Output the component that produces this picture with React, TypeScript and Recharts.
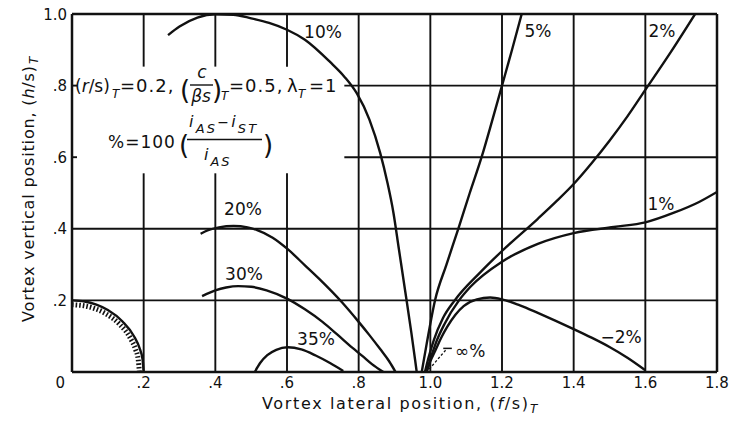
import React from 'react';
import { LineChart, Line, XAxis, YAxis, ReferenceLine } from 'recharts';

const W = 733;
const H = 423;
const FONT = "'DejaVu Sans', 'Liberation Sans', sans-serif";
const INK = '#111';

// ---- axes ----
const xTicks = [0, 0.2, 0.4, 0.6, 0.8, 1.0, 1.2, 1.4, 1.6, 1.8];
const xTickLabels = ['0', '.2', '.4', '.6', '.8', '1.0', '1.2', '1.4', '1.6', '1.8'];
const yTicks = [0.2, 0.4, 0.6, 0.8, 1.0];
const yTickLabels = ['.2', '.4', '.6', '.8', '1.0'];

// ---- grid (some lines are interrupted by the note box) ----
const gridXFull = [0.8, 1.0, 1.2, 1.4, 1.6];
const gridXBroken = [0.2, 0.4, 0.6];
const noteGapY = [0.555, 0.853];
const gridYFull = [0.2, 0.4];
const gridYBroken = [0.6, 0.8];
const noteGapXEnd = 0.76;
const stubLen = 0.014;

// ---- curves (x = (f/s)T, y = (h/s)T) ----
const pct10 = [
  [0.268, 0.941], [0.3, 0.965], [0.35, 0.99], [0.4, 0.999], [0.45, 0.998], [0.5, 0.988],
  [0.55, 0.975], [0.6, 0.956], [0.65, 0.928], [0.72, 0.866], [0.76, 0.825], [0.795, 0.778],
  [0.83, 0.705], [0.86, 0.612], [0.88, 0.53], [0.897, 0.445], [0.912, 0.345], [0.93, 0.225],
  [0.947, 0.11], [0.958, 0.03], [0.962, 0],
];
const pct20 = [
  [0.359, 0.386], [0.38, 0.396], [0.41, 0.404], [0.451, 0.408], [0.49, 0.404], [0.515, 0.397],
  [0.56, 0.375], [0.602, 0.343], [0.65, 0.298], [0.69, 0.26], [0.754, 0.194], [0.8, 0.14],
  [0.83, 0.103], [0.86, 0.064], [0.885, 0.03], [0.903, 0],
];
const pct30 = [
  [0.363, 0.212], [0.4, 0.228], [0.43, 0.236], [0.464, 0.24], [0.5, 0.238], [0.543, 0.228],
  [0.6, 0.205], [0.65, 0.175], [0.699, 0.14], [0.74, 0.105], [0.782, 0.068], [0.81, 0.045],
  [0.837, 0.022], [0.869, 0],
];
const pct35 = [
  [0.51, 0], [0.525, 0.025], [0.545, 0.047], [0.57, 0.062], [0.602, 0.069], [0.64, 0.063],
  [0.68, 0.046], [0.72, 0.025], [0.757, 0.003],
];
const pct5 = [
  [0.976, 0], [0.99, 0.08], [1.013, 0.2], [1.045, 0.3], [1.078, 0.4], [1.11, 0.5],
  [1.143, 0.6], [1.172, 0.7], [1.2, 0.8], [1.228, 0.9], [1.255, 1.0],
];
const pct2 = [
  [0.985, 0], [0.995, 0.04], [1.01, 0.09], [1.035, 0.15], [1.068, 0.2], [1.14, 0.279],
  [1.2, 0.338], [1.3, 0.428], [1.35, 0.475], [1.4, 0.525], [1.45, 0.583], [1.5, 0.646],
  [1.55, 0.714], [1.6, 0.788], [1.67, 0.892], [1.739, 1.0],
];
const pct1 = [
  [0.99, 0], [1.0, 0.035], [1.015, 0.08], [1.04, 0.135], [1.08, 0.2], [1.112, 0.238],
  [1.2, 0.308], [1.3, 0.358], [1.4, 0.388], [1.512, 0.405], [1.6, 0.418], [1.68, 0.445],
  [1.75, 0.475], [1.8, 0.503],
];
const pctMinus2 = [
  [0.99, 0.003], [1.0, 0.03], [1.014, 0.06], [1.03, 0.095], [1.047, 0.126], [1.07, 0.16],
  [1.093, 0.184], [1.13, 0.203], [1.167, 0.208], [1.2, 0.203], [1.25, 0.186], [1.3, 0.165],
  [1.35, 0.143], [1.4, 0.12], [1.45, 0.096], [1.5, 0.07], [1.55, 0.04], [1.6, 0.005],
];
// boundary quarter circle (radius 0.2) and its hatching just inside it
const boundaryArc = [
  [0, 0.2], [0.035, 0.197], [0.068, 0.188], [0.1, 0.173], [0.141, 0.141], [0.173, 0.1],
  [0.188, 0.068], [0.197, 0.035], [0.2, 0],
];
const hatchArc = [
  [0, 0.188], [0.033, 0.185], [0.064, 0.177], [0.094, 0.163], [0.133, 0.133], [0.163, 0.094],
  [0.177, 0.064], [0.185, 0.033], [0.188, 0],
];
// leader for the "∞%" note
const infLeader = [[0.997, 0.008], [1.047, 0.066]];
const infHook = [[1.036, 0.066], [1.06, 0.066]];

const toPts = (a: number[][]) => a.map(([x, y]) => ({ x, y }));

const curves = [
  { key: 'p10', data: pct10 },
  { key: 'p20', data: pct20 },
  { key: 'p30', data: pct30 },
  { key: 'p35', data: pct35 },
  { key: 'p5', data: pct5 },
  { key: 'p2', data: pct2 },
  { key: 'p1', data: pct1 },
  { key: 'pm2', data: pctMinus2 },
  { key: 'arc', data: boundaryArc },
];

// curve labels: text, centre x, baseline y (px)
const curveLabels = [
  { t: '10%', x: 323, y: 38 },
  { t: '5%', x: 538, y: 37 },
  { t: '2%', x: 662, y: 37 },
  { t: '1%', x: 661, y: 210 },
  { t: '\u22122%', x: 621, y: 343 },
  { t: '20%', x: 243, y: 215 },
  { t: '30%', x: 244, y: 280 },
  { t: '35%', x: 316, y: 345 },
];

const XTick = (props: any) => {
  const { x, y, payload } = props;
  const i = xTicks.findIndex((t) => Math.abs(t - payload.value) < 1e-6);
  const label = i >= 0 ? xTickLabels[i] : '';
  const isZero = i === 0;
  return (
    <text
      x={isZero ? x - 7 : x}
      y={y + 16}
      textAnchor={isZero ? 'end' : 'middle'}
      fontFamily={FONT}
      fontSize={15}
      fill={INK}
    >
      {label}
    </text>
  );
};

const YTick = (props: any) => {
  const { x, y, payload } = props;
  const i = yTicks.findIndex((t) => Math.abs(t - payload.value) < 1e-6);
  const label = i >= 0 ? yTickLabels[i] : '';
  return (
    <text x={x} y={y + 5.5} textAnchor="end" fontFamily={FONT} fontSize={15} fill={INK}>
      {label}
    </text>
  );
};

const gridStyle = { stroke: INK, strokeWidth: 1.9 };

export default function App() {
  const segs: { k: string; s: { x: number; y: number }[] }[] = [];
  gridXFull.forEach((gx) => segs.push({ k: `vx${gx}`, s: [{ x: gx, y: 0 }, { x: gx, y: 1 }] }));
  gridXBroken.forEach((gx) => {
    segs.push({ k: `vxa${gx}`, s: [{ x: gx, y: 0 }, { x: gx, y: noteGapY[0] }] });
    segs.push({ k: `vxb${gx}`, s: [{ x: gx, y: noteGapY[1] }, { x: gx, y: 1 }] });
  });
  gridYFull.forEach((gy) => segs.push({ k: `hy${gy}`, s: [{ x: 0, y: gy }, { x: 1.8, y: gy }] }));
  gridYBroken.forEach((gy) => {
    segs.push({ k: `hya${gy}`, s: [{ x: 0, y: gy }, { x: stubLen, y: gy }] });
    segs.push({ k: `hyb${gy}`, s: [{ x: noteGapXEnd, y: gy }, { x: 1.8, y: gy }] });
  });

  return (
    <div style={{ position: 'absolute', left: 0, top: 0, width: W, height: H, background: '#fff' }}>
      <LineChart width={W} height={H} margin={{ top: 14, right: 16, bottom: 0, left: 0 }}>
        <XAxis
          type="number"
          dataKey="x"
          domain={[0, 1.8]}
          ticks={xTicks}
          interval={0}
          allowDataOverflow
          height={51}
          tickLine={false}
          tickSize={0}
          tickMargin={0}
          tick={<XTick />}
          axisLine={{ stroke: INK, strokeWidth: 2.5 }}
        />
        <YAxis
          type="number"
          dataKey="y"
          domain={[0, 1]}
          ticks={yTicks}
          interval={0}
          allowDataOverflow
          width={72}
          tickLine={false}
          tickSize={0}
          tickMargin={5}
          tick={<YTick />}
          axisLine={{ stroke: INK, strokeWidth: 2.5 }}
        />
        {segs.map((g) => (
          <ReferenceLine key={g.k} segment={g.s} {...gridStyle} />
        ))}
        <ReferenceLine y={1} stroke={INK} strokeWidth={2.5} />
        <ReferenceLine x={1.8} stroke={INK} strokeWidth={2.5} />
        <ReferenceLine
          segment={toPts(infLeader)}
          stroke={INK}
          strokeWidth={1.3}
          strokeDasharray="2.5 2"
        />
        <ReferenceLine segment={toPts(infHook)} stroke={INK} strokeWidth={1.5} />
        <Line
          key="hatch"
          data={toPts(hatchArc)}
          dataKey="y"
          type="monotone"
          dot={false}
          activeDot={false}
          stroke={INK}
          strokeWidth={5}
          strokeDasharray="1.6 2"
          isAnimationActive={false}
        />
        {curves.map((c) => (
          <Line
            key={c.key}
            data={toPts(c.data)}
            dataKey="y"
            type="monotone"
            dot={false}
            activeDot={false}
            stroke={INK}
            strokeWidth={2.4}
            isAnimationActive={false}
          />
        ))}
      </LineChart>
      <svg
        width={W}
        height={H}
        style={{ position: 'absolute', left: 0, top: 0, pointerEvents: 'none' }}
        fontFamily={FONT}
        fill={INK}
      >
        {curveLabels.map((l) => (
          <text key={l.t} x={l.x} y={l.y} textAnchor="middle" fontSize={17}>
            {l.t}
          </text>
        ))}
        <text x={455} y={357} fontSize={17}>
          {'\u221E%'}
        </text>

        {/* note line 1 */}
        <text x={75} y={92} fontSize={17}>
          (<tspan fontStyle="italic">r</tspan>/s)
        </text>
        <text x={112} y={98} fontSize={12} fontStyle="italic">T</text>
        <text x={120} y={92} fontSize={18} letterSpacing={1}>=0.2,</text>
        <text x={180} y={99} fontSize={26}>(</text>
        <text x={202} y={78} fontSize={17} fontStyle="italic" textAnchor="middle">c</text>
        <line x1={190} y1={85} x2={213} y2={85} stroke={INK} strokeWidth={1.4} />
        <text x={201} y={102} fontSize={17} fontStyle="italic" textAnchor="middle">{'\u03B2s'}</text>
        <text x={212} y={99} fontSize={26}>)</text>
        <text x={221} y={100} fontSize={12} fontStyle="italic">T</text>
        <text x={229} y={92} fontSize={18} letterSpacing={1}>=0.5,</text>
        <text x={287} y={92} fontSize={18}>{'\u03BB'}</text>
        <text x={298} y={98} fontSize={12} fontStyle="italic">T</text>
        <text x={309} y={92} fontSize={18} letterSpacing={1}>=1</text>

        {/* note line 2 */}
        <text x={108} y={148} fontSize={17} letterSpacing={1}>%=100</text>
        <text x={179} y={154} fontSize={26}>(</text>
        <text x={189} y={127} fontSize={16} fontStyle="italic" letterSpacing={2.2}>
          i<tspan fontSize={13} dy={6}>AS</tspan>
          <tspan fontSize={14} dy={-6}>{'\u2212'}</tspan>i<tspan fontSize={13} dy={6}>ST</tspan>
        </text>
        <line x1={187} y1={139.5} x2={262} y2={139.5} stroke={INK} strokeWidth={1.4} />
        <text x={204} y={160} fontSize={16} fontStyle="italic" letterSpacing={2}>
          i<tspan fontSize={13} dy={6}>AS</tspan>
        </text>
        <text x={263} y={154} fontSize={26}>)</text>

        {/* axis titles */}
        <text x={262} y={409} fontSize={16} textLength={266} lengthAdjust="spacing">
          Vortex lateral position, (<tspan fontStyle="italic">f</tspan>/s)
        </text>
        <text x={530} y={413} fontSize={12} fontStyle="italic">T</text>
        <text
          x={34}
          y={322}
          fontSize={16}
          transform="rotate(-90 34 322)"
          textLength={256}
          lengthAdjust="spacing"
        >
          Vortex vertical position, (<tspan fontStyle="italic">h</tspan>/s)
        </text>
        <text x={38} y={64} fontSize={12} fontStyle="italic" transform="rotate(-90 38 64)">
          T
        </text>
      </svg>
    </div>
  );
}
